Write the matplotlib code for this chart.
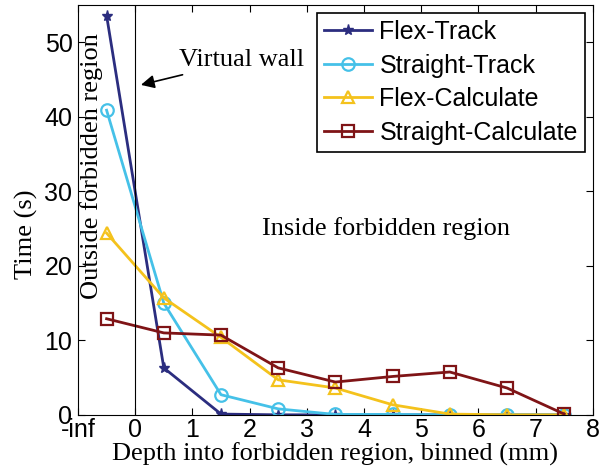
import matplotlib.pyplot as plt

# bin centres (mm into forbidden region); first bin is "outside"
depth = [-0.5, 0.5, 1.5, 2.5, 3.5, 4.5, 5.5, 6.5, 7.5]

flex_track = [53.6, 6.3, 0.1, 0.0, 0.0, 0.0, 0.0, 0.0, 0.0]
straight_track = [40.9, 15.0, 2.7, 0.8, 0.05, 0.05, 0.0, 0.0, 0.0]
flex_calc = [24.4, 15.7, 10.4, 4.7, 3.6, 1.35, 0.1, 0.0, 0.0]
straight_calc = [12.9, 11.0, 10.7, 6.3, 4.4, 5.15, 5.75, 3.6, 0.1]

xtick_pos = [-1, 0, 1, 2, 3, 4, 5, 6, 7, 8]
xtick_labels = ['-inf', '0', '1', '2', '3', '4', '5', '6', '7', '8']

sans = 'Liberation Sans'
serif = 'Liberation Serif'

fig = plt.figure(figsize=(6, 4.73), dpi=100)
ax = fig.add_axes([0.13, 0.123, 0.858, 0.866])

ax.plot(depth, flex_track, '-*', color='#2b2d7f', lw=2, ms=8, label='Flex-Track')
ax.plot(depth, straight_track, '-o', color='#45c1e8', lw=2, ms=9, mfc='none', mew=1.6, label='Straight-Track')
ax.plot(depth, flex_calc, '-^', color='#f4c21c', lw=2, ms=9, mfc='none', mew=1.6, label='Flex-Calculate')
ax.plot(depth, straight_calc, '-s', color='#7f1416', lw=2, ms=8, mfc='none', mew=1.6, label='Straight-Calculate')

# virtual wall at depth zero
ax.axvline(0, color='black', lw=0.8)
ax.annotate('Virtual wall', xy=(0.1, 44.3), xytext=(0.77, 47.6), va='center',
            fontsize=19, family=serif,
            arrowprops=dict(arrowstyle='-|>', color='black', lw=1.2, mutation_scale=20,
                            shrinkA=2, shrinkB=0))
ax.text(-0.77, 33.4, 'Outside forbidden region', rotation=90, ha='center', va='center',
        fontsize=19, family=serif)
ax.text(2.22, 25.0, 'Inside forbidden region', va='center', fontsize=19, family=serif)

ax.set_xlim(-1, 8)
ax.set_ylim(0, 55)
ax.set_xticks(xtick_pos)
ax.set_xticklabels(xtick_labels)
ax.set_yticks([0, 10, 20, 30, 40, 50])
ax.tick_params(direction='in', top=True, right=True, labelsize=18, length=5)
ax.tick_params(axis='x', pad=2)
ax.tick_params(axis='y', pad=4)
for lbl in ax.get_xticklabels() + ax.get_yticklabels():
    lbl.set_family(sans)

ax.set_xlabel('Depth into forbidden region, binned (mm)', fontsize=19, family=serif, labelpad=1)
ax.set_ylabel('Time (s)', fontsize=19, family=serif)
ax.yaxis.set_label_coords(-0.078, 0.44)

leg = ax.legend(loc='upper right', prop={'family': sans, 'size': 18}, fancybox=False,
                edgecolor='black', framealpha=1, handlelength=1.9, borderpad=0.3,
                labelspacing=0.38, handletextpad=0.3, borderaxespad=0.3)
leg.get_frame().set_linewidth(1.2)

fig.savefig('out.png')
